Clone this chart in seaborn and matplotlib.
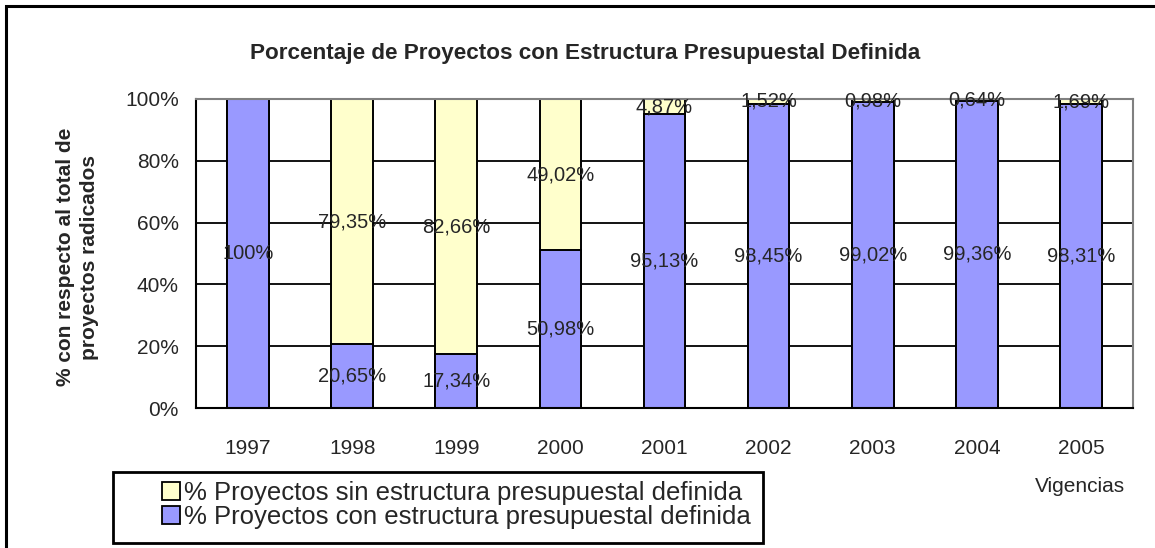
import numpy as np
import pandas as pd
import seaborn as sns
import matplotlib.pyplot as plt
from matplotlib.patches import Patch, Rectangle

years = ["1997", "1998", "1999", "2000", "2001", "2002", "2003", "2004", "2005"]
con_estructura = [100.0, 20.65, 17.34, 50.98, 95.13, 98.45, 99.02, 99.36, 98.31]
sin_estructura = [0.0, 79.35, 82.66, 49.02, 4.87, 1.52, 0.98, 0.64, 1.69]
con_labels = ["100%", "20,65%", "17,34%", "50,98%", "95,13%", "98,45%", "99,02%", "99,36%", "98,31%"]
sin_labels = ["", "79,35%", "82,66%", "49,02%", "4,87%", "1,52%", "0,98%", "0,64%", "1,69%"]
y_ticks = [0, 20, 40, 60, 80, 100]

PURPLE = "#9999FF"
YELLOW = "#FFFFCC"
W, H = 1155, 548

sns.set_style("white")
plt.rcParams["font.family"] = ["Liberation Sans", "DejaVu Sans"]

df = pd.DataFrame({"year": years, "con": con_estructura, "sin": sin_estructura})
total = df["con"] + df["sin"]
df["con_pct"] = df["con"] / total * 100
df["total_pct"] = 100.0

fig = plt.figure(figsize=(W / 100, H / 100), dpi=100)
ax = fig.add_axes([196 / W, 1 - 408 / H, (1133 - 196) / W, (408 - 99) / H])

# grid lines behind bars
ax.set_axisbelow(True)
ax.yaxis.grid(True, color="black", linewidth=1.3)

# stacked 100% bars: full height yellow, purple drawn over it from the bottom
sns.barplot(data=df, x="year", y="total_pct", color=YELLOW, width=0.4,
            edgecolor="black", linewidth=1.4, saturation=1, ax=ax)
sns.barplot(data=df, x="year", y="con_pct", color=PURPLE, width=0.4,
            edgecolor="black", linewidth=1.4, saturation=1, ax=ax)

# data labels at the middle of each segment
for i, (c, lab_c, lab_s) in enumerate(zip(df["con_pct"], con_labels, sin_labels)):
    ax.text(i, c / 2, lab_c, ha="center", va="center", fontsize=14.5)
    if lab_s:
        ax.text(i, c + (100 - c) / 2, lab_s, ha="center", va="center", fontsize=14.5)

ax.set_xlim(-0.5, len(years) - 0.5)
ax.set_ylim(0, 100)
ax.set_yticks(y_ticks)
ax.set_yticklabels([f"{t}%" for t in y_ticks], fontsize=15)
ax.set_xticks(range(len(years)))
ax.set_xticklabels(years, fontsize=15)
ax.set_xticks(np.arange(-0.5, len(years)), minor=True)
ax.tick_params(axis="x", which="major", length=0, pad=22)
ax.tick_params(axis="x", which="minor", length=5.5, width=1.3, color="black", direction="out")
ax.tick_params(axis="y", length=5.5, width=1.3, color="black", direction="out", pad=7)
ax.set_xlabel("")
ax.set_ylabel("% con respecto al total de\nproyectos radicados", fontsize=15,
              fontweight="bold", linespacing=1.35)
ax.yaxis.set_label_coords((99 - 196) / (1133 - 196), (408 - 257) / (408 - 99))

for side in ["left", "bottom"]:
    ax.spines[side].set_color("black")
    ax.spines[side].set_linewidth(1.5)
for side in ["top", "right"]:
    ax.spines[side].set_color("#808080")
    ax.spines[side].set_linewidth(1.5)

fig.text(585 / W, 1 - 53 / H, "Porcentaje de Proyectos con Estructura Presupuestal Definida",
         ha="center", va="center", fontsize=16.2, fontweight="bold")
fig.text(1080 / W, 1 - 487 / H, "Vigencias", ha="center", va="center", fontsize=15)

handles = [Patch(facecolor=YELLOW, edgecolor="black", linewidth=1.3),
           Patch(facecolor=PURPLE, edgecolor="black", linewidth=1.3)]
leg = fig.legend(handles, ["% Proyectos sin estructura presupuestal definida",
                           "% Proyectos con estructura presupuestal definida"],
                 loc="center left", bbox_to_anchor=(162 / W, 1 - 505 / H),
                 fontsize=18.5, frameon=False, borderaxespad=0, borderpad=0,
                 handlelength=0.7, handleheight=0.7, handletextpad=0.15,
                 labelspacing=0.0)

# legend frame drawn by hand: Excel pads it more on the left than on top
fig.canvas.draw()
bb = leg.get_window_extent()
x1 = bb.x1 / W + 12 / W
fig.patches.append(Rectangle((113 / W, 1 - 543 / H), x1 - 113 / W, (543 - 472) / H,
                             transform=fig.transFigure, fill=False,
                             edgecolor="black", linewidth=2))

# outer chart border (left and top visible)
fig.patches.append(Rectangle((6 / W, -0.1), 1.2, 1 - 6 / H + 0.1,
                             transform=fig.transFigure, fill=False,
                             edgecolor="black", linewidth=2.2))

fig.savefig("out.png", dpi=100)
